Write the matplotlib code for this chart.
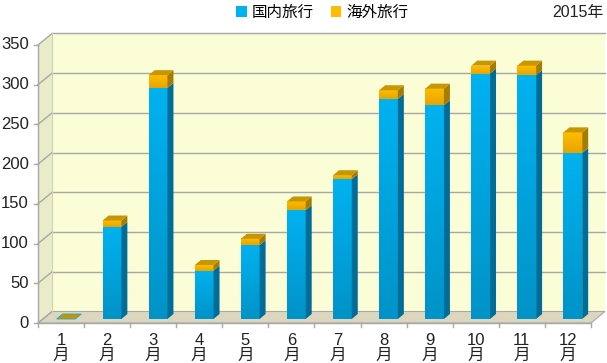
import numpy as np
import matplotlib.pyplot as plt
from matplotlib.patches import Polygon, Patch
from matplotlib.colors import LinearSegmentedColormap

plt.rcParams['font.family'] = ['Liberation Sans', 'Noto Sans CJK JP']

# データ（万人）
months = [f"{i}\n月" for i in range(1, 13)]
domestic = [0, 116, 291, 61, 93, 137, 176, 277, 269, 309, 307, 209]
overseas = [0, 8, 16, 7, 8, 11, 5, 11, 21, 10, 12, 26]
yticks = [0, 50, 100, 150, 200, 250, 300, 350]
series = ['国内旅行', '海外旅行']
year_label = '2015年'

# 色
blue_front = ['#0093c8', '#00b2f0']
blue_side = '#006d98'
orange_front = ['#e6a500', '#ffbc00']
orange_side = '#a67c00'
orange_top = '#c89600'
wall = '#fafdd6'
side_wall = '#e8ecc9'
floor_c = '#ddd6bf'
grid_c = '#a8a8a8'

# 画面上の大きさ(px)
W, H = 607, 363
X0, Y0 = 38, 323          # 手前の原点
CAT, VAL = 46.08, 0.7943  # 1カテゴリ, 1単位あたりのpx


def dxp(p):
    return p / CAT


def dyp(p):
    return p / VAL


DX, DY = dxp(14), dyp(11.5)          # 奥行き
BX0, BY0 = dxp(4.9), dyp(4)          # 棒の前面位置
BDX, BDY = dxp(6), dyp(5)            # 棒の奥行き
BW = dxp(18.7)
n = len(months)
top = yticks[-1]

fig = plt.figure(figsize=(W / 100, H / 100), dpi=100)
ax = fig.add_axes([0, 0, 1, 1])
ax.axis('off')

# 壁と床
left, right = -0.5, n - 0.5
ax.add_patch(Polygon([(left + DX, DY), (right + DX, DY), (right + DX, top + DY),
                      (left + DX, top + DY)], closed=True, fc=wall, ec='none', zorder=0))
ax.add_patch(Polygon([(left, 0), (left + DX, DY), (left + DX, top + DY), (left, top)],
                     closed=True, fc=side_wall, ec='none', zorder=0))
ax.add_patch(Polygon([(left, 0), (right, 0), (right + DX, DY), (left + DX, DY)],
                     closed=True, fc=floor_c, ec=grid_c, lw=0.8, zorder=1))

for v in yticks:
    if v > 0:
        ax.plot([left + DX, right + DX], [v + DY, v + DY], color=grid_c, lw=1, zorder=1)
    ax.plot([left, left + DX], [v, v + DY], color=grid_c, lw=1, zorder=1)
    ax.plot([left - dxp(4), left], [v, v], color=grid_c, lw=1, zorder=1)
    ax.text(left - dxp(9), v, str(v), ha='right', va='center', fontsize=12, color='#222222')
ax.plot([left, left], [0, top], color=grid_c, lw=1, zorder=1)
ax.plot([left + DX, left + DX], [DY, top + DY], color='#d0d4b4', lw=0.8, zorder=1)

ax.plot([left, right], [0, 0], color=grid_c, lw=1, zorder=2)
for k in range(n + 1):
    ax.plot([left + k, left + k], [0, -dyp(4)], color=grid_c, lw=1, zorder=2)
for i, m in enumerate(months):
    ax.text(i, -dyp(25), m, ha='center', va='center', fontsize=12,
            linespacing=0.95, color='#222222')

# 棒
grad = np.linspace(0, 1, 64).reshape(-1, 1)
cm_blue = LinearSegmentedColormap.from_list('b', blue_front)
cm_orange = LinearSegmentedColormap.from_list('o', orange_front)

for i in range(n):
    x0 = i + BX0 - BW / 2
    x1 = x0 + BW
    base = BY0
    segs = [(domestic[i], cm_blue, blue_side), (overseas[i], cm_orange, orange_side)]
    for val, cm, side in segs:
        y0, y1 = base, base + val
        if val > 0:
            ax.imshow(grad, cmap=cm, extent=[x0, x1, y0, y1], origin='lower',
                      aspect='auto', interpolation='bilinear', zorder=3)
            ax.add_patch(Polygon([(x1, y0), (x1 + BDX, y0 + BDY), (x1 + BDX, y1 + BDY), (x1, y1)],
                                 closed=True, fc=side, ec='none', zorder=3))
        base = y1
    ax.add_patch(Polygon([(x0, base), (x1, base), (x1 + BDX, base + BDY), (x0 + BDX, base + BDY)],
                         closed=True, fc=orange_top, ec='#1aa6d8' if base <= BY0 else 'none',
                         lw=0.6, zorder=4))

ax.set_xlim(-0.5 - X0 / CAT, -0.5 + (W - X0) / CAT)
ax.set_ylim(-(H - Y0) / VAL, Y0 / VAL)

handles = [Patch(fc=blue_front[1], ec='none'), Patch(fc=orange_front[1], ec='none')]
fig.legend(handles, series, loc='center', bbox_to_anchor=(322 / W, 1 - 12 / H), ncol=2,
           frameon=False, fontsize=11.2, handlelength=0.7, handleheight=0.7,
           handletextpad=0.3, columnspacing=1.1, borderpad=0)
fig.text(604 / W, 1 - 12 / H, year_label, ha='right', va='center', fontsize=11.5, color='#222222')

fig.savefig('out.png', dpi=100)
